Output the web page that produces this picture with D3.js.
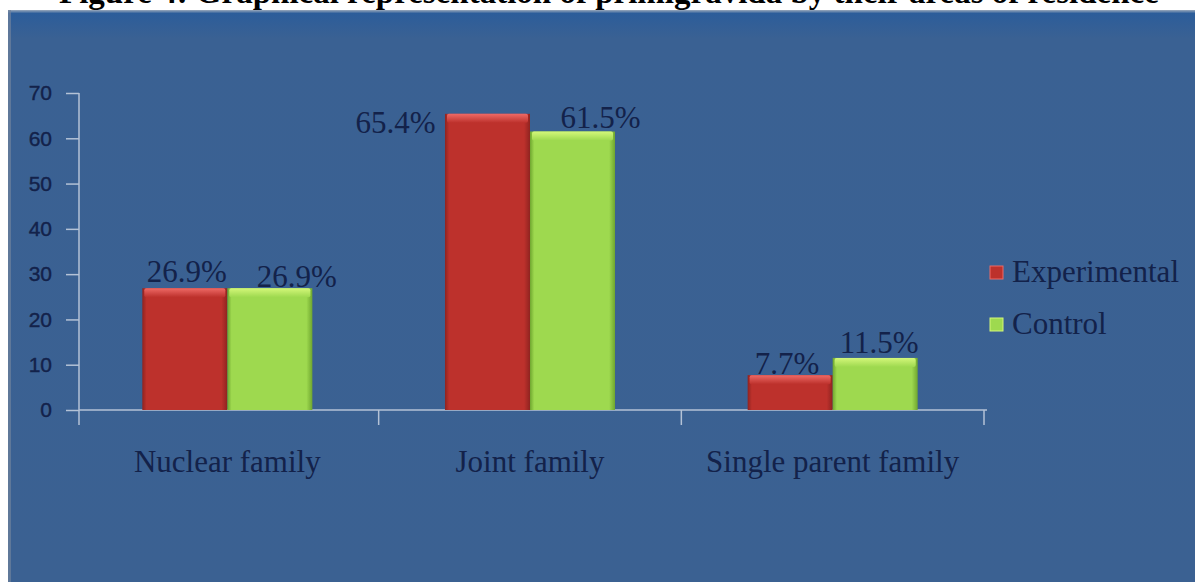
<!DOCTYPE html>
<html>
<head>
<meta charset="utf-8">
<script src="https://cdn.jsdelivr.net/npm/d3@7"></script>
<style>
  html, body { margin: 0; padding: 0; background: #ffffff; }
  svg { display: block; }
</style>
</head>
<body>
<svg id="chart" width="1195" height="582"></svg>
<script>
// Family type of respondents, percentage per group
const categories = ["Nuclear family", "Joint family", "Single parent family"];
const series = ["Experimental", "Control"];
const experimental = [26.9, 65.4, 7.7];
const control = [26.9, 61.5, 11.5];
const yTicks = [0, 10, 20, 30, 40, 50, 60, 70];
const titleText = "Figure 4: Graphical representation of primigravida by their areas of residence";

// label nudges [dx, dy] relative to the top centre of each bar, by series then category
const labelNudge = {
  Experimental: [[2, -6], [-92, 19], [-3, -1]],
  Control: [[27, -1], [28, -3], [4, -5]]
};

const values = { Experimental: experimental, Control: control };
const colors = {
  Experimental: { body: "#bd312c", light: "#ee6a66", dark: "#8f2320" },
  Control: { body: "#9ed94f", light: "#d4f77a", dark: "#6fa62f" }
};

const svg = d3.select("#chart");
const W = 1195, H = 582;
const defs = svg.append("defs");

// title line, running past the top edge of the page
svg.append("text")
  .attr("x", 59).attr("y", 3)
  .attr("font-family", "'Liberation Serif', 'Times New Roman', serif")
  .attr("font-weight", "bold")
  .attr("font-size", 33)
  .attr("fill", "#000")
  .text(titleText);

// background panel
const panelGrad = defs.append("linearGradient").attr("id", "panelGrad")
  .attr("x1", 0).attr("y1", 0).attr("x2", 0).attr("y2", 1);
panelGrad.append("stop").attr("offset", "0%").attr("stop-color", "#9aa9bb");
panelGrad.append("stop").attr("offset", "0.6%").attr("stop-color", "#2c5d9a");
panelGrad.append("stop").attr("offset", "5%").attr("stop-color", "#3a6193");
panelGrad.append("stop").attr("offset", "100%").attr("stop-color", "#3b6192");
svg.append("rect").attr("x", 8).attr("y", 10).attr("width", W - 8).attr("height", H - 10)
  .attr("fill", "url(#panelGrad)");
svg.append("rect").attr("x", 8).attr("y", 10).attr("width", 3).attr("height", H - 10)
  .attr("fill", "#6f829c").attr("opacity", 0.7);

// scales
const plot = { left: 79, right: 987, top: 93, bottom: 410 };
const y = d3.scaleLinear().domain([0, 70]).range([plot.bottom, plot.top]);
const xCat = d3.scaleBand().domain(categories).range([plot.left - 3, plot.right - 3]).padding(0);
const xSer = d3.scaleBand().domain(series).range([0, xCat.bandwidth()])
  .paddingInner(0).paddingOuter(0.78);

const axisColor = "#b4c2d6";
const textColor = "#13224a";

// y axis
const yAxis = d3.axisLeft(y).tickValues(yTicks).tickSize(13).tickPadding(14);
const gy = svg.append("g").attr("transform", `translate(${plot.left},0)`).call(yAxis);
gy.select(".domain").remove();
gy.selectAll(".tick line").attr("stroke", axisColor).attr("stroke-width", 1.5);
gy.selectAll(".tick text")
  .attr("fill", textColor)
  .attr("stroke", textColor).attr("stroke-width", 0.4)
  .attr("font-family", "'Liberation Sans', Arial, sans-serif")
  .attr("font-size", 21);
svg.append("line")
  .attr("x1", plot.left).attr("x2", plot.left)
  .attr("y1", y(70)).attr("y2", plot.bottom + 15)
  .attr("stroke", axisColor).attr("stroke-width", 1.5);

// x axis baseline and category separators
svg.append("line")
  .attr("x1", plot.left).attr("x2", plot.right)
  .attr("y1", plot.bottom).attr("y2", plot.bottom)
  .attr("stroke", axisColor).attr("stroke-width", 1.5);
const boundaries = categories.map(c => xCat(c)).concat([xCat(categories[categories.length - 1]) + xCat.bandwidth()]);
svg.selectAll("line.sep").data(boundaries.slice(1)).enter().append("line")
  .attr("class", "sep")
  .attr("x1", d => d).attr("x2", d => d)
  .attr("y1", plot.bottom).attr("y2", plot.bottom + 15)
  .attr("stroke", axisColor).attr("stroke-width", 1.5);

// gradients for bevelled bars
series.forEach((s, i) => {
  const c = colors[s];
  const g = defs.append("linearGradient").attr("id", "side" + i)
    .attr("x1", 0).attr("y1", 0).attr("x2", 1).attr("y2", 0);
  g.append("stop").attr("offset", "0%").attr("stop-color", c.dark);
  g.append("stop").attr("offset", "5%").attr("stop-color", c.body);
  g.append("stop").attr("offset", "93%").attr("stop-color", c.body);
  g.append("stop").attr("offset", "100%").attr("stop-color", c.dark);
  const t = defs.append("linearGradient").attr("id", "top" + i)
    .attr("x1", 0).attr("y1", 0).attr("x2", 0).attr("y2", 1);
  t.append("stop").attr("offset", "0%").attr("stop-color", c.light);
  t.append("stop").attr("offset", "100%").attr("stop-color", c.body);
});

// bars
const barData = [];
series.forEach((s, si) => {
  categories.forEach((c, ci) => {
    barData.push({ s, si, c, ci, v: values[s][ci] });
  });
});

const bars = svg.append("g").selectAll("g.bar").data(barData).enter().append("g").attr("class", "bar");
bars.append("rect")
  .attr("x", d => xCat(d.c) + xSer(d.s))
  .attr("y", d => y(d.v))
  .attr("width", xSer.bandwidth())
  .attr("height", d => plot.bottom - y(d.v))
  .attr("fill", d => `url(#side${d.si})`);
bars.append("rect")
  .attr("x", d => xCat(d.c) + xSer(d.s) + 2)
  .attr("y", d => y(d.v))
  .attr("width", xSer.bandwidth() - 4)
  .attr("height", 9)
  .attr("rx", 2)
  .attr("fill", d => `url(#top${d.si})`);

// value labels
svg.append("g").selectAll("text").data(barData).enter().append("text")
  .attr("x", d => xCat(d.c) + xSer(d.s) + xSer.bandwidth() / 2 + labelNudge[d.s][d.ci][0])
  .attr("y", d => y(d.v) + labelNudge[d.s][d.ci][1])
  .attr("text-anchor", "middle")
  .attr("font-family", "'Liberation Serif', 'Times New Roman', serif")
  .attr("font-size", 31)
  .attr("fill", textColor)
  .text(d => d.v.toFixed(1) + "%");

// category labels
svg.append("g").selectAll("text").data(categories).enter().append("text")
  .attr("x", d => xCat(d) + xCat.bandwidth() / 2)
  .attr("y", 472)
  .attr("text-anchor", "middle")
  .attr("font-family", "'Liberation Serif', 'Times New Roman', serif")
  .attr("font-size", 31)
  .attr("fill", textColor)
  .text(d => d);

// legend
const legend = svg.append("g").attr("transform", "translate(990,266)");
const li = legend.selectAll("g").data(series).enter().append("g")
  .attr("transform", (d, i) => `translate(0,${i * 52})`);
li.append("rect").attr("width", 13).attr("height", 13)
  .attr("fill", d => colors[d].body)
  .attr("stroke", d => colors[d].light).attr("stroke-width", 1);
li.append("text")
  .attr("x", 22).attr("y", 16)
  .attr("font-family", "'Liberation Serif', 'Times New Roman', serif")
  .attr("font-size", 31)
  .attr("fill", textColor)
  .text(d => d);
</script>
</body>
</html>
